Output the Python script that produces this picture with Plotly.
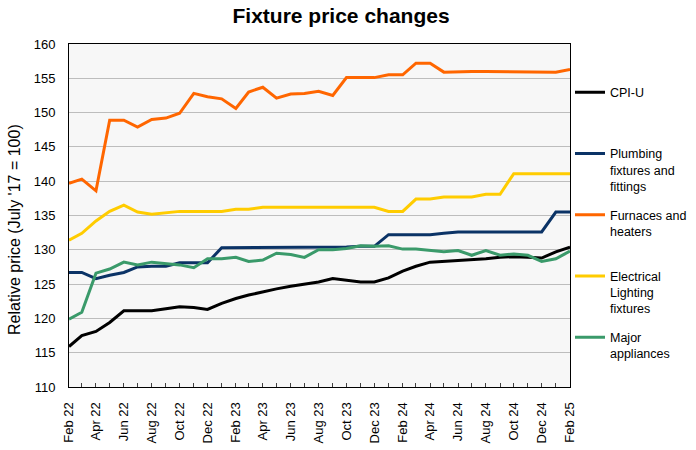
import plotly.graph_objects as go

months = ["2022-02-01", "2022-03-01", "2022-04-01", "2022-05-01", "2022-06-01", "2022-07-01",
          "2022-08-01", "2022-09-01", "2022-10-01", "2022-11-01", "2022-12-01",
          "2023-01-01", "2023-02-01", "2023-03-01", "2023-04-01", "2023-05-01", "2023-06-01",
          "2023-07-01", "2023-08-01", "2023-09-01", "2023-10-01", "2023-11-01", "2023-12-01",
          "2024-01-01", "2024-02-01", "2024-03-01", "2024-04-01", "2024-05-01", "2024-06-01",
          "2024-07-01", "2024-08-01", "2024-09-01", "2024-10-01", "2024-11-01", "2024-12-01",
          "2025-01-01", "2025-02-01"]

cpi_u = [115.9, 117.5, 118.1, 119.4, 121.1, 121.1, 121.1, 121.4, 121.7, 121.6, 121.3,
         122.2, 122.9, 123.4, 123.9, 124.3, 124.7, 125.0, 125.3, 125.8, 125.6, 125.3, 125.3,
         125.9, 126.9, 127.6, 128.2, 128.3, 128.4, 128.5, 128.7, 128.9, 129.0, 128.9, 128.8,
         129.7, 130.4]

plumbing = [126.7, 126.7, 125.8, 126.3, 126.7, 127.5, 127.6, 127.6, 128.1, 128.1, 128.1,
            130.3, 130.3, 130.3, 130.3, 130.4, 130.4, 130.4, 130.4, 130.4, 130.4, 130.5, 130.5,
            132.2, 132.2, 132.2, 132.2, 132.4, 132.6, 132.6, 132.6, 132.6, 132.6, 132.6, 132.6,
            135.5, 135.5]

furnaces = [139.7, 140.3, 138.6, 148.9, 148.9, 147.9, 149.0, 149.2, 149.9, 152.8, 152.3,
            152.0, 150.6, 153.0, 153.7, 152.1, 152.7, 152.8, 153.1, 152.5, 155.1, 155.1, 155.1,
            155.5, 155.5, 157.2, 157.2, 155.9, 156.0, 156.0, 156.0, 156.0, 155.9, 155.9, 155.9,
            155.9, 156.3]

lighting = [131.4, 132.4, 134.2, 135.6, 136.5, 135.5, 135.2, 135.4, 135.6, 135.6, 135.6,
            135.6, 135.9, 135.9, 136.2, 136.2, 136.2, 136.2, 136.2, 136.2, 136.2, 136.2, 136.2,
            135.6, 135.6, 137.4, 137.4, 137.7, 137.7, 137.7, 138.1, 138.1, 141.1, 141.1, 141.1,
            141.1, 141.1]

appliances = [119.9, 120.9, 126.6, 127.2, 128.2, 127.8, 128.2, 128.0, 127.8, 127.4, 128.7,
              128.7, 128.9, 128.3, 128.5, 129.5, 129.3, 128.9, 130.0, 130.0, 130.2, 130.6, 130.5,
              130.6, 130.1, 130.1, 129.9, 129.7, 129.9, 129.2, 129.9, 129.2, 129.4, 129.2, 128.3,
              128.7, 129.8]

series_names = ["CPI-U", "Plumbing<br>fixtures and<br>fittings", "Furnaces and<br>heaters",
                "Electrical<br>Lighting<br>fixtures", "Major<br>appliances"]
series_values = [cpi_u, plumbing, furnaces, lighting, appliances]
series_colors = ["#000000", "#0B3366", "#FF6600", "#FFCC00", "#3A9A6A"]

FONT = "Liberation Sans, Arial, sans-serif"

fig = go.Figure()
for name, vals, color in zip(series_names, series_values, series_colors):
    n_lines = name.count("<br>") + 1
    padded = name + "<br>\u00a0" * (3 - n_lines)
    fig.add_trace(go.Scatter(
        x=months, y=vals, mode="lines", name=padded, legendgroup=name,
        line=dict(color=color, width=3),
    ))

fig.update_layout(
    width=696, height=450,
    margin=dict(l=69, r=126, t=44, b=63, autoexpand=False),
    paper_bgcolor="white",
    plot_bgcolor="#F7F7F7",
    font=dict(family=FONT, size=13, color="#000000"),
    title=dict(text="<b>Fixture price changes</b>", x=0.49, xanchor="center",
               y=1 - 16 / 450, yanchor="middle", yref="container",
               font=dict(family=FONT, size=21, color="#000000")),
    showlegend=True,
    legend=dict(x=1.0, xanchor="left", y=0.902, yanchor="top",
                traceorder="grouped", tracegroupgap=9.5, valign="top",
                bgcolor="rgba(0,0,0,0)", font=dict(family=FONT, size=12.5, color="#000000")),
    annotations=[dict(text="Relative price (July '17 = 100)", textangle=-90,
                      xref="paper", yref="paper", x=(14 - 69) / 501, y=(387 - 230) / 343,
                      xanchor="center", yanchor="middle", showarrow=False,
                      font=dict(family=FONT, size=16, color="#000000"))],
)

fig.update_xaxes(
    type="date", automargin=False,
    range=["2022-02-01", "2025-02-01"],
    tick0="2022-02-01", dtick="M2", tickformat="%b %y", tickangle=-90,
    ticks="inside", ticklen=4, tickcolor="#404040",
    minor=dict(dtick="M1", ticks="inside", ticklen=4, tickcolor="#404040", showgrid=False),
    showgrid=False, showline=True, linecolor="#000000", linewidth=1, mirror=True,
    tickfont=dict(family=FONT, size=13, color="#000000"),
    ticklabelstandoff=9,
)
fig.update_yaxes(
    range=[110, 160], dtick=5, automargin=False,
    showgrid=True, gridcolor="#BDBDBD", gridwidth=1,
    showline=True, linecolor="#000000", linewidth=1, mirror=True,
    ticks="", tickfont=dict(family=FONT, size=13, color="#000000"),
    ticklabelstandoff=10, zeroline=False,
)

fig.write_html("out.html", config={"displayModeBar": False},
               post_script="document.body.style.margin='0px';")
